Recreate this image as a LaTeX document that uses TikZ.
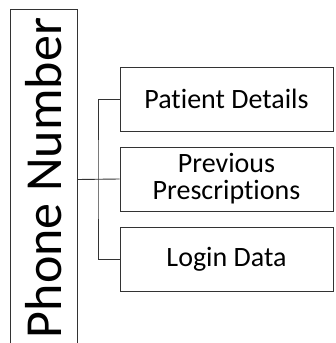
\documentclass[tikz,border=0pt]{standalone}
\usepackage{fontspec}
\setmainfont{Carlito}[Ligatures={NoCommon}]
\begin{document}
\begin{tikzpicture}[x=1pt, y=-1pt,
  box/.style = {draw = black!80, line width = 0.9pt, minimum width = 213pt, minimum height = 64pt, inner sep = 0pt, align = center, font = \fontsize{28}{27}\selectfont},
  link/.style = {draw = black!80, line width = 0.9pt}]
\useasboundingbox (0,0) rectangle (335,343);
\clip (0,0) rectangle (335,343);
\pgfmathsetmacro\boxstep{80}
\node [draw = black!80, line width = 0.9pt, rotate = 90, minimum width = 337pt, minimum height = 67pt, inner sep = 0pt, font = \fontsize{52}{52}\selectfont] (phone) at (43.5,178) {Phone Number};
\foreach \n/\name/\txt in {0/details/Patient Details, 1/prescriptions/{Previous\\Prescriptions}, 2/login/Login Data}
  \node [box] (\name) at (226.5,99+\boxstep*\n) {\txt};
\coordinate (trunk) at (98,179.5);
\draw [link] (phone.south |- trunk) -- (prescriptions.west);
\draw [link] (details.west) -| (trunk) |- (login.west);
\end{tikzpicture}
\end{document}
